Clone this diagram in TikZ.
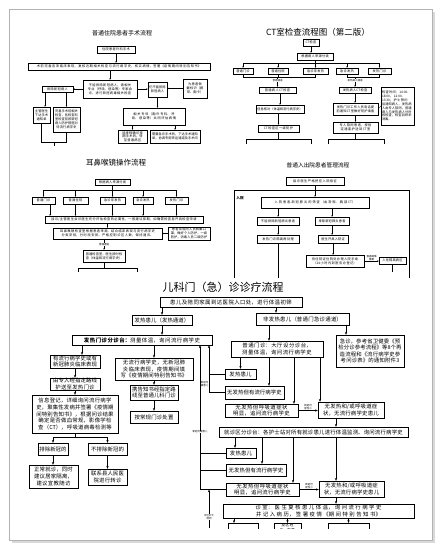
\documentclass[tikz,border=0pt]{standalone}
\usepackage{fontspec}
\setmainfont{Noto Sans CJK SC}
\usetikzlibrary{arrows.meta}
\XeTeXlinebreaklocale "zh"
\XeTeXlinebreakskip=0pt plus 0.5pt

\begin{document}
\begin{tikzpicture}[
            x=1pt, y=-1pt,
            box/.style={
                draw,
                line width=0.3pt,
                align=center,
                inner xsep=1pt,
                inner ysep=0pt,
                fill=white
            },
            tiny/.style={font=\fontsize{3.2}{3.9}\selectfont},
            kid/.style={font=\fontsize{5.4}{6.6}\selectfont, line width=0.45pt},
            lab/.style={font=\fontsize{2.5}{3}\selectfont, align=center, inner sep=0.3pt},
            ttl/.style={font=\fontsize{#1}{#1}\selectfont, inner sep=0pt},
            flow/.style={-{Stealth[length=1.6pt,width=1.3pt]}, line width=0.3pt},
            kflow/.style={-{Stealth[length=2.8pt,width=2.2pt]}, line width=0.45pt},
            link/.style={line width=0.3pt}
        ]

            \useasboundingbox (0,0) rectangle (442,552);

            % page
            \fill[gray!30] (12,12) rectangle (435,543);
            \draw[gray!60, fill=white, line width=0.6pt] (9,9) rectangle (432,540);

            % surgery flow
            \node[ttl=6] (t1) at (122,33) {普通住院患者手术流程};
            \node[box, tiny, text width=36pt, minimum height=7pt] (a1) at (116,49.5) {住院患者外科手术};
            \node[box, tiny, text width=180pt, minimum height=7pt] (a2) at (119,66.5)
                {术前完善各项临床表现，复核近期相关检查与流行病学史，核实病情，签署《疫情期间特别告知书》};
            \node[box, tiny, text width=52pt, minimum height=18pt] (a3) at (110,89)
                {不能排除新冠病人，请相关专业（呼吸、感染等）专家会诊，进行新冠病毒相关检查};
            \node[box, tiny, text width=29pt, minimum height=6pt] (a4) at (57.5,89) {排除新冠病人};
            \node[box, tiny, text width=17pt, minimum height=15pt] (a5) at (157.5,89.5) {仍不能排除新冠病人};
            \node[box, tiny, text width=22pt, minimum height=19pt] (a6) at (195,88.5) {为患者佩戴标识（腕带、胸卡）};
            \node[box, tiny, text width=15pt, minimum height=16pt] (a7) at (41.5,115) {主管医生下达手术通知单};
            \node[box, tiny, text width=25pt, minimum height=25pt] (a8) at (66.5,119.5)
                {完善手术前相关检查，各检查科室检查前按新冠病人防护措施对待流行病学史};
            \node[box, tiny, text width=60pt, minimum height=17pt] (a9) at (154,116.5)
                {相关专科（胸外专科、呼吸、感染等）共同评估病情};
            \node[box, tiny, text width=27pt, minimum height=13.5pt] (a10) at (132.5,136.75)
                {能排除确诊择期手术的，转至普通病区};
            \node[box, tiny, text width=48pt, minimum height=13.5pt] (a11) at (175,136.75)
                {需要急诊手术的，下达手术通知单，协调专用转运通道及手术间};

            \draw[flow] (a1.south) -- (a1.south |- a2.north);
            \draw[flow] (a3.north |- a2.south) -- (a3.north);
            \draw[flow] (a3.west) -- (a4.east);
            \draw[flow] (a3.east) -- (a3.east -| a5.west);
            \draw[flow] (a6.west) -- (a6.west -| a5.east);
            \draw[flow] ([xshift=-12.5pt]a4.south) -- ([xshift=-12.5pt]a4.south |- a7.north);
            \draw[flow] (a8.north |- a4.south) -- (a8.north);
            \draw[flow] (a5.south) -- (a5.south |- a9.north);
            \draw[flow] (a10.north |- a9.south) -- (a10.north);
            \draw[flow] (a11.north |- a9.south) -- (a11.north);
            \coordinate (m1) at (54,142);
            \draw[link] (a7.south) -- (a7.south |- m1) -- (a8.south |- m1) -- (a8.south);
            \draw[link] (m1) -- ++(0,4);

            % CT flow
            \node[ttl=8.5] (t2) at (318,32) {CT室检查流程图（第二版）};
            \node[box, tiny, text width=14pt, minimum height=7pt] (b1) at (311,42.5) {CT检查};
            \node[box, tiny, text width=34pt, minimum height=7pt] (b2) at (315,56.5) {根据病人来源分类};
            \node[box, tiny, text width=18pt, minimum height=6pt] (b3) at (243,71) {普通门诊};
            \node[box, tiny, text width=18pt, minimum height=6pt] (b4) at (278,71) {普通住院};
            \node[box, tiny, text width=23pt, minimum height=6pt] (b5) at (315.5,71) {急诊非发热};
            \node[box, tiny, text width=20pt, minimum height=6pt] (b6) at (347,71) {急诊发热};
            \node[box, tiny, text width=21pt, minimum height=6pt] (b7) at (379.5,71) {发热门诊};
            \node[box, tiny, text width=35pt, minimum height=6pt] (b8) at (277.5,90) {普通病人CT检查};
            \node[box, tiny, text width=30pt, minimum height=6pt] (b9) at (355,90) {发热病人CT检查};
            \node[box, tiny, text width=46pt, minimum height=8pt] (b10) at (280,109) {信息核对（体温和流行病学史）};
            \node[box, tiny, text width=43pt, minimum height=12pt] (b11) at (355.5,109)
                {发热门诊工作人员电话提前通知CT室做好防护准备};
            \node[box, tiny, align=left, text width=31pt, minimum height=38pt] (b12) at (397.5,106)
                {检查时间：14:00-18:00，12:00-13:30；护士预约后通知病人，发热病人由专人陪同，普通病人与发热病人分时段检查，检查后终末消毒。};
            \node[box, tiny, text width=39pt, minimum height=7pt] (b13) at (278.5,128.5) {CT检查区一级防护};
            \node[box, tiny, text width=43pt, minimum height=11pt] (b14) at (355.5,127.5)
                {专人陪同患者，按指定通道护送到CT室};

            \draw[flow] (b1.south) -- (b1.south |- b2.north);
            \coordinate (ctbus) at (315,63);
            \draw[link] (b2.south) -- (ctbus);
            \draw[link] (b3.north |- ctbus) -- (b7.north |- ctbus);
            \foreach \n in {b3,b4,b5,b6,b7}
                \draw[flow] (\n.north |- ctbus) -- (\n.north);
            \coordinate (ctl) at (277.5,77);
            \coordinate (ctr) at (355,77);
            \draw[link] (b3.south) -- (b3.south |- ctl) -- (b5.south |- ctl) -- (b5.south);
            \draw[link] (b4.south) -- (b4.south |- ctl);
            \draw[link] (b6.south) -- (b6.south |- ctr) -- (b7.south |- ctr) -- (b7.south);
            \draw[flow] (ctl) -- node[lab, fill=white, pos=0.35] {普通通道} (b8.north);
            \draw[flow] (ctr) -- node[lab, fill=white, pos=0.35] {发热病人通道} (b9.north);
            \draw[flow] (b10.north |- b8.south) -- (b10.north);
            \draw[flow] (b13.north |- b10.south) -- (b13.north);
            \draw[flow] (b9.south) -- (b9.south |- b11.north);
            \draw[flow] (b14.north |- b11.south) -- (b14.north);
            \draw[link] (b11.east) -- (b12.west);
            \coordinate (ctb1) at (246,139);
            \coordinate (ctb2) at (311,139);
            \coordinate (ctb3) at (328,139);
            \coordinate (ctb4) at (384,139);
            \draw[link] (b13.south) -- (b13.south |- ctb1);
            \draw[link] (ctb1) -- (ctb2);
            \draw[link] (b14.south) -- (b14.south |- ctb3);
            \draw[link] (ctb3) -- (ctb4);
            \foreach \c in {ctb1,ctb2,ctb3,ctb4}
                \draw[link] (\c) -- ++(0,5);

            % ENT endoscope flow
            \node[ttl=7.5] (t3) at (116,163) {耳鼻喉镜操作流程};
            \node[box, tiny, text width=33pt, minimum height=6pt] (c1) at (112.5,182) {根据病人来源分类};
            \node[box, tiny, text width=21pt, minimum height=7pt] (c2) at (43.5,200.5) {普通门诊};
            \node[box, tiny, text width=23pt, minimum height=7pt] (c3) at (75.5,200.5) {普通住院};
            \node[box, tiny, text width=23pt, minimum height=7pt] (c4) at (112.5,200.5) {急诊非发热};
            \node[box, tiny, text width=18pt, minimum height=7pt] (c5) at (143,200.5) {急诊发热};
            \node[box, tiny, text width=21pt, minimum height=7pt] (c6) at (176.5,200.5) {发热门诊};
            \node[box, tiny, text width=156pt, minimum height=7pt] (c7) at (124,219.5)
                {接诊/主管医生会诊医生充分评估检查的必要性，一般建议择期，如确需检查者开具检查申请};
            \node[box, tiny, text width=107pt, minimum height=11pt] (c8) at (107.5,233.5)
                {耳鼻喉镜检查室根据患者来源，结合临床表现与流行病学史分类安排，分时段安排，严格控制诊区人数，保持通风。};
            \node[box, tiny, text width=40pt, minimum height=13pt] (c9) at (189,233.5)
                {患者及陪同人员佩戴口罩，做好个人防护，一级防护，消毒人员二级防护};
            \node[box, tiny, text width=40pt, minimum height=12pt] (c10) at (104,256)
                {普通检查室，医生按时检查（体温和流行病学史）};

            \coordinate (entbus) at (112.5,190);
            \draw[link] (c1.south) -- (entbus);
            \draw[link] (c2.north |- entbus) -- (c6.north |- entbus);
            \foreach \n in {c2,c3,c4,c5,c6}
                \draw[flow] (\n.north |- entbus) -- (\n.north);
            \draw[flow] ([xshift=6.5pt]c2.south) -- ([xshift=6.5pt]c2.south |- c7.north);
            \foreach \n in {c3,c4,c5,c6}
                \draw[flow] (\n.south) -- (\n.south |- c7.north);
            \draw[flow] (c8.north |- c7.south) -- (c8.north);
            \draw[flow] (c9.west) -- (c9.west -| c8.east);
            \draw[flow] (c10.north |- c8.south) -- node[lab, fill=white] {普通通道} (c10.north);
            \coordinate (entb1) at (78,268);
            \coordinate (entb2) at (137,268);
            \draw[link] (c10.south) -- (c10.south |- entb1);
            \draw[link] (entb1) -- (entb2);
            \draw[link] (entb1) -- ++(0,4);
            \draw[link] (entb2) -- ++(0,4);

            % admission flow
            \node[ttl=5.7] (t4) at (318,165) {普通入出院患者管理流程};
            \node[box, tiny, text width=56pt, minimum height=8pt] (d1) at (315,181) {接诊医生严格把控入院指征};
            \draw[link] (234,278) -- (234,190) -- (409,190) -- (409,278);
            \node[tiny, inner sep=0pt, font=\fontsize{3.6}{4}\selectfont\bfseries] (inyuan) at (240,198) {入院};
            \node[box, tiny, text width=106pt, minimum height=11pt] (d2) at (315,202.5)
                {入院患者-新冠肺炎的筛查（血常规、胸部CT）};
            \node[box, tiny, text width=40pt, minimum height=8pt] (d3) at (278,221) {不能排除新冠肺炎患者};
            \node[box, tiny, text width=32pt, minimum height=8pt] (d4) at (332,221) {排除新冠肺炎患者};
            \node[box, tiny, text width=40pt, minimum height=8pt] (d5) at (278,239) {发热门诊隔离再处理};
            \node[box, tiny, text width=28pt, minimum height=8pt] (d6) at (333,239) {医生开具入院证};
            \node[box, tiny, text width=56pt, minimum height=12pt] (d7) at (335,261)
                {持住院证住院处办理入院手续\\（24小时内到医务办登记）};
            \node[box, tiny, text width=25pt, minimum height=7pt] (d8) at (392.5,260.5) {入住隔离病区};

            \draw[flow] (d1.south) -- (d1.south |- d2.north);
            \draw[flow] (d3.north |- d2.south) -- (d3.north);
            \draw[flow] (d4.north |- d2.south) -- (d4.north);
            \draw[flow] (d3.south) -- (d5.north);
            \draw[flow] (d4.south) -- (d4.south |- d6.north);
            \draw[flow] (d6.south) -- (d6.south |- d7.north);
            \draw[flow] (d7.east) -- node[lab, above] {根据病情\\需要} (d7.east -| d8.west);
            \coordinate (d5end) at (278,278);
            \draw[link] (d5.south) -- (d5end);
            \draw[link] (d8.south) -- ++(0,8);

            % paediatric flow
            \node[ttl=11] (t5) at (223,287) {儿科门（急）诊诊疗流程};
            \node[box, kid, text width=140pt, minimum height=10pt] (e0) at (231,302)
                {患儿及陪同家属到达医院入口处，进行体温初筛};
            \node[box, kid, text width=58pt, minimum height=10pt] (e1) at (162,320) {发热患儿（发热通道）};
            \node[box, kid, text width=91pt, minimum height=12pt] (e2) at (302.5,319) {非发热患儿（普通门急诊通道）};
            \node[box, kid, text width=138pt, minimum height=10pt] (e3) at (142,340)
                {\textbf{发热门诊分诊台：}测量体温，询问流行病学史};
            \node[box, kid, text width=48pt, minimum height=13pt] (e4) at (75,361.5)
                {有流行病学史或有新冠肺炎临床表现};
            \node[box, kid, text width=76pt, minimum height=22pt] (e5) at (154,369)
                {无流行病学史，无新冠肺炎临床表现，疫情期间填写《疫情期间特别告知书》};
            \node[box, kid, text width=48pt, minimum height=12pt] (e6) at (75,384)
                {由专人经指定路线护送至发热门诊};
            \node[box, kid, text width=46pt, minimum height=15pt] (e7) at (154,392.5)
                {携告知书经指定路线至普通儿科门诊};
            \node[box, kid, text width=84pt, minimum height=38pt] (e8) at (75,414)
                {信息登记，详细询问流行病学史，聚集性发病并签署《疫情期间特别告知书》，根据问诊结果确定是否做血常规，影像学检查（CT），呼吸道病毒检测等};
            \node[box, kid, text width=46pt, minimum height=12pt] (e9) at (154,417) {按常规门诊处置};
            \node[box, kid, text width=28pt, minimum height=12pt] (e10) at (53,449) {排除新冠的};
            \node[box, kid, text width=37pt, minimum height=12pt] (e11) at (107.5,449) {不排除新冠的};
            \node[box, kid, text width=47pt, minimum height=23pt] (e12) at (53.5,476.5)
                {正常就诊，同时建议居家隔离，建议宣教随访};
            \node[box, kid, text width=37pt, minimum height=16pt] (e13) at (107.5,477)
                {联系县人民医院进行转诊};
            \node[box, kid, text width=90pt, minimum height=16pt] (e14) at (277,349)
                {普通门诊：大厅设分诊台，测量体温，询问流行病学史};
            \node[box, kid, text width=66pt, minimum height=32pt] (e15) at (370,351)
                {急诊，参考省卫健委《预检分诊参考流程》等8个再造流程和《流行病学史参考问诊表》的通知附件3};
            \node[box, kid, text width=29pt, minimum height=10pt] (e16) at (240.5,374) {发热患儿};
            \node[box, kid, text width=57pt, minimum height=13pt] (e17) at (254.5,392.5) {无发热但有流行病学史};
            \node[box, kid, text width=71pt, minimum height=13pt] (e18) at (261.5,410.5)
                {无发热但呼吸道症状明显，追问流行病学史};
            \node[box, kid, text width=64pt, minimum height=16pt] (e19) at (351,410)
                {无发热和/或呼吸道症状，无流行病学史患儿};
            \node[box, kid, text width=187pt, minimum height=10pt] (e20) at (313.5,432)
                {就诊区分诊台：各护士站对所有就诊患儿进行体温监测、询问流行病学史};
            \node[box, kid, text width=28pt, minimum height=10pt] (e21) at (241,453) {发热患儿};
            \node[box, kid, text width=58pt, minimum height=12pt] (e22) at (256,470) {无发热但有流行病学史};
            \node[box, kid, text width=71pt, minimum height=13pt] (e23) at (262.5,489.5)
                {无发热但呼吸道症状明显，追问流行病学史};
            \node[box, kid, text width=63pt, minimum height=16pt] (e24) at (351.5,489)
                {无发热和/或呼吸道症状，无流行病学史患儿};
            \node[box, kid, text width=189pt, minimum height=14pt] (e25) at (318.5,511)
                {诊室：医生复核患儿体温，询问流行病学史并记入病历，签署疫情《期间特别告知书》};
            \begin{scope}
                \clip (0,0) rectangle (442,528);
                \node[box, kid, anchor=north, text width=28pt, minimum height=12pt] (e26) at (243,523) {};
                \node[box, kid, anchor=north, inner ysep=0.6pt, text width=25pt,
                    font=\fontsize{3.6}{4.4}\selectfont] (e27) at (287.5,523) {疫区经历，聚集};
                \node[box, kid, anchor=north, text width=39pt, minimum height=12pt] (e28) at (348.5,523) {};
            \end{scope}

            \draw[kflow] (e1.north |- e0.south) -- (e1.north);
            \draw[kflow] ([xshift=-26.5pt]e2.north |- e0.south) -- ([xshift=-26.5pt]e2.north);
            \draw[kflow] (e1.south) -- (e1.south |- e3.north);
            \draw[kflow] ([xshift=7pt]e4.north |- e3.south) -- ([xshift=7pt]e4.north);
            \draw[kflow] (e5.north |- e3.south) -- (e5.north);
            \draw[kflow] (e4.south) -- (e6.north);
            \draw[kflow] (e6.south) -- (e8.north);
            \draw[kflow] (e5.south) -- (e7.north);
            \draw[kflow] (e7.south) -- (e9.north);
            \coordinate (ks) at (75,437);
            \draw[kid] (e8.south) -- (ks);
            \draw[kid] (e10.north |- ks) -- (e11.north |- ks);
            \draw[kflow] (e10.north |- ks) -- (e10.north);
            \draw[kflow] (e11.north |- ks) -- (e11.north);
            \draw[kflow] (e10.south) -- (e10.south |- e12.north);
            \draw[kflow] (e11.south) -- (e13.north);

            \draw[kflow] ([xshift=-33.5pt]e2.south) -- ([xshift=-33.5pt]e2.south |- e14.north);
            \draw[kflow] ([xshift=43.5pt]e2.south) -- ([xshift=43.5pt]e2.south |- e15.north);
            \draw[kflow] (e16.north |- e14.south) -- (e16.north);
            \draw[kflow] ([xshift=14.5pt]e17.north |- e14.south) -- ([xshift=14.5pt]e17.north);
            \draw[kflow] ([xshift=32.5pt]e18.north |- e14.south) -- ([xshift=32.5pt]e18.north);
            \draw[kflow] ([xshift=-31pt]e19.north |- e14.south) -- ([xshift=-31pt]e19.north);
            \draw[kflow] (e18.east) -- node[lab, above] {新冠可\\能性小} (e18.east -| e19.west);
            \draw[kflow] ([xshift=-15pt]e19.south) -- ([xshift=-15pt]e19.south |- e20.north);
            \draw[kflow] ([xshift=-6pt]e21.north |- e20.south) -- ([xshift=-6pt]e21.north);
            \draw[kflow] ([xshift=6pt]e22.north |- e20.south) -- ([xshift=6pt]e22.north);
            \draw[kflow] ([xshift=30.5pt]e23.north |- e20.south) -- ([xshift=30.5pt]e23.north);
            \draw[kflow] ([xshift=-15.5pt]e24.north |- e20.south) -- ([xshift=-15.5pt]e24.north);
            \draw[kflow] (e23.east) -- node[lab, above] {新冠可\\能性小} (e23.east -| e24.west);
            \draw[kflow] ([xshift=-15.5pt]e24.south) -- ([xshift=-15.5pt]e24.south |- e25.north);
            \draw[kflow] ([xshift=-9pt]e26.north |- e25.south) -- ([xshift=-9pt]e26.north);
            \draw[kflow] (e27.north |- e25.south) -- (e27.north);
            \draw[kflow] (e28.north |- e25.south) -- (e28.north);

            % back to the fever clinic
            \coordinate (qa) at (200,345);
            \coordinate (qb) at (209,345);
            \coordinate (qc) at (209,528);
            \draw[kflow] (qa |- e23.west) -- (qa |- e3.south);
            \draw[kid] (e21.west) -- (e21.west -| qa);
            \draw[kid] (e22.west) -- (e22.west -| qa);
            \draw[kid] (e23.west) -- (e23.west -| qa);
            \node[lab, fill=white] (sus2) at (qa |- e20.west) {新冠可疑患儿};
            \draw[kflow] (qb |- e17.west) -- (qb |- e3.south);
            \draw[kid] (e16.west) -- (e16.west -| qb);
            \draw[kid] (e17.west) -- (e17.west -| qb);
            \node[lab] (sus1) at (204.5,384) {新冠可\\疑患儿};
            \draw[kflow] (qc) -- node[lab, fill=white, pos=0.29] {诊区护士\\陪同} (qc |- e23.west);

        \end{tikzpicture}
\end{document}
